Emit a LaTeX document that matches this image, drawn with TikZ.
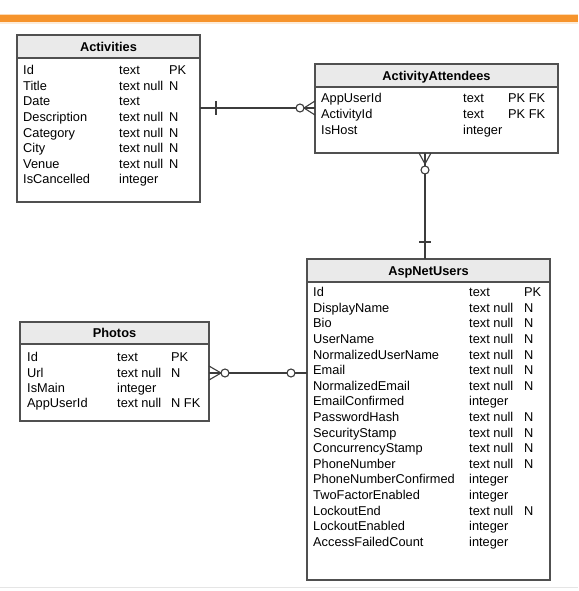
\documentclass[tikz,border=0pt]{standalone}
\usepackage{fontspec}
\setmainfont{Liberation Sans}
\definecolor{barorange}{RGB}{246,148,44}
\definecolor{hdrgray}{RGB}{234,234,234}
\definecolor{boxline}{RGB}{80,80,80}
\definecolor{linkline}{RGB}{60,60,60}

% rows of an entity table:
% #1 prefix, #2 x of name column, #3 x of type column, #4 x of key column,
% #5 baseline of first row, #6 row pitch, #7 list name/type/key
\newcommand\erdrows[7]{%
  \foreach \n/\t/\k [count=\i from 0] in {#7}{%
    \node[cell] (#1-n\i) at (#2,#5+\i*#6) {\n};
    \node[cell] (#1-t\i) at (#3,#5+\i*#6) {\t};
    \node[cell] (#1-k\i) at (#4,#5+\i*#6) {\k};
  }%
}

\begin{document}
\begin{tikzpicture}[x=1pt,y=-1pt,
  hdrbox/.style={draw=boxline, fill=hdrgray, line width=1.3pt, anchor=north west,
    inner sep=0pt, outer sep=0pt, text height=9.3pt, text depth=0pt,
    font=\fontsize{12.8}{14}\selectfont\bfseries},
  bodybox/.style={draw=boxline, line width=1.3pt, anchor=north west,
    inner sep=0pt, outer sep=0pt},
  cell/.style={anchor=base west, inner sep=0pt, font=\fontsize{12.8}{14}\selectfont},
  link/.style={draw=linkline, line width=1.1pt},
  ring/.style={draw=linkline, line width=1.1pt, fill=white}]

% canvas
\fill[white] (0,0) rectangle (578,591);
\useasboundingbox (0,0) rectangle (578,591);

% top banner and bottom rule
\fill[barorange!35] (0,14) rectangle (578,16);
\fill[barorange] (0,15.5) rectangle (578,22);
\fill[barorange!18] (0,22) rectangle (578,24);
\draw[black!10, line width=0.8pt] (0,587) -- (578,587);

% ---------- Activities ----------
\node[hdrbox, minimum width=183pt, minimum height=23pt] (act-h) at (17,35) {Activities};
\node[bodybox, minimum width=183pt, minimum height=144pt] (act) at (act-h.south west) {};
\erdrows{act}{23}{119}{169}{74.6}{15.6}{Id/text/PK, Title/text null/N, Date/text/{},
  Description/text null/N, Category/text null/N, City/text null/N,
  Venue/text null/N, IsCancelled/integer/{}}

% ---------- ActivityAttendees ----------
\node[hdrbox, minimum width=243pt, minimum height=23pt] (aa-h) at (315,64) {ActivityAttendees};
\node[bodybox, minimum width=243pt, minimum height=66pt] (aa) at (aa-h.south west) {};
\erdrows{aa}{321}{463}{508}{102.6}{15.8}{AppUserId/text/PK FK, ActivityId/text/PK FK,
  IsHost/integer/{}}

% ---------- AspNetUsers ----------
\node[hdrbox, minimum width=243pt, minimum height=23pt] (asp-h) at (307,259) {AspNetUsers};
\node[bodybox, minimum width=243pt, minimum height=298pt] (asp) at (asp-h.south west) {};
\erdrows{asp}{313}{469}{524}{296.6}{15.6}{Id/text/PK, DisplayName/text null/N,
  Bio/text null/N, UserName/text null/N, NormalizedUserName/text null/N,
  Email/text null/N, NormalizedEmail/text null/N, EmailConfirmed/integer/{},
  PasswordHash/text null/N, SecurityStamp/text null/N, ConcurrencyStamp/text null/N,
  PhoneNumber/text null/N, PhoneNumberConfirmed/integer/{}, TwoFactorEnabled/integer/{},
  LockoutEnd/text null/N, LockoutEnabled/integer/{}, AccessFailedCount/integer/{}}

% ---------- Photos ----------
\node[hdrbox, minimum width=189pt, minimum height=22pt] (ph-h) at (20,322) {Photos};
\node[bodybox, minimum width=189pt, minimum height=77pt] (ph) at (ph-h.south west) {};
\erdrows{ph}{27}{117}{171}{361.6}{15.4}{Id/text/PK, Url/text null/N, IsMain/integer/{},
  AppUserId/text null/N FK}

% ---------- relationships ----------
% Activities (one) -- ActivityAttendees (zero or many)
\coordinate (r1) at (0,108);
\draw[link] (act.east |- r1) -- (aa.west |- r1);
\draw[link] ([xshift=16pt]act.east |- r1) ++(0,-7) -- ++(0,14);
\draw[link] ([yshift=7pt]aa.west |- r1) -- ([xshift=-11pt]aa.west |- r1)
  -- ([yshift=-7pt]aa.west |- r1);
\draw[ring] ([xshift=-15pt]aa.west |- r1) circle[radius=4pt];

% ActivityAttendees (zero or many) -- AspNetUsers (one)
\coordinate (r2) at (425,0);
\draw[link] (aa.south -| r2) -- (asp-h.north -| r2);
\draw[link] ([xshift=-6pt]aa.south -| r2) -- ([yshift=-11pt]aa.south -| r2)
  -- ([xshift=6pt]aa.south -| r2);
\draw[ring] ([yshift=-17pt]aa.south -| r2) circle[radius=4pt];
\draw[link] ([yshift=17pt]asp-h.north -| r2) ++(-6,0) -- ++(12,0);

% Photos (zero or many) -- AspNetUsers (zero or one)
\coordinate (r3) at (0,373);
\draw[link] (ph.east |- r3) -- (asp.west |- r3);
\draw[link] ([yshift=7pt]ph.east |- r3) -- ([xshift=12pt]ph.east |- r3)
  -- ([yshift=-7pt]ph.east |- r3);
\draw[ring] ([xshift=16pt]ph.east |- r3) circle[radius=4pt];
\draw[ring] ([xshift=-16pt]asp.west |- r3) circle[radius=4pt];

\end{tikzpicture}
\end{document}
